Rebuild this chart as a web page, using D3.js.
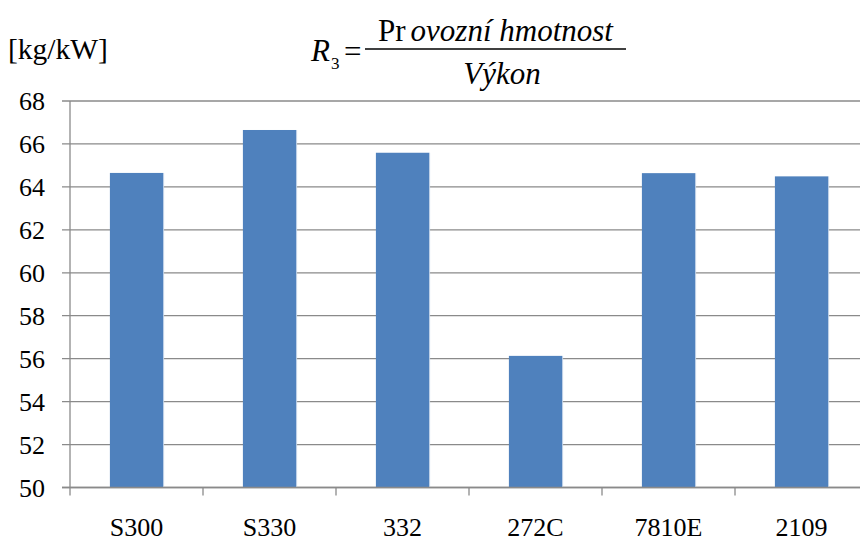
<!DOCTYPE html>
<html><head><meta charset="utf-8">
<script src="https://cdn.jsdelivr.net/npm/d3@7"></script>
<style>body{margin:0;background:#fff}svg{display:block}</style>
</head><body>
<script>
const categories = ["S300","S330","332","272C","7810E","2109"];
const values = [64.65, 66.65, 65.59, 56.13, 64.64, 64.49];
const yTicks = [50,52,54,56,58,60,62,64,66,68];
const unitLabel = "[kg/kW]";

const W = 860, H = 541;
const FONT = "'Liberation Serif', 'Times New Roman', Times, serif";
const m = {left:70, top:101, right:868, bottom:487.5};
const svg = d3.select("body").append("svg").attr("width",W).attr("height",H)
  .attr("font-family",FONT);

const x = d3.scaleBand().domain(categories).range([m.left,m.right]).paddingInner(0.6).paddingOuter(0.3);
const y = d3.scaleLinear().domain([50,68]).range([m.bottom,m.top]);
const GRID = "#8a8a8a";

// gridlines
svg.append("g").selectAll("line").data(yTicks).join("line")
  .attr("x1",62).attr("x2",W).attr("y1",d=>y(d)).attr("y2",d=>y(d))
  .attr("stroke",GRID).attr("stroke-width",1.3);

// y labels
svg.append("g").selectAll("text").data(yTicks).join("text")
  .attr("x",45).attr("y",d=>y(d)).attr("dy","0.35em").attr("text-anchor","end")
  .attr("font-size",26).attr("font-family",FONT).text(d=>d);

// bars
svg.append("g").selectAll("rect").data(values).join("rect")
  .attr("x",(d,i)=>x(categories[i])).attr("width",x.bandwidth())
  .attr("y",d=>y(d)).attr("height",d=>y(50)-y(d))
  .attr("fill","#4F81BD");
svg.append("g").selectAll("line").data(values).join("line")
  .attr("x1",(d,i)=>x(categories[i])+x.bandwidth()+0.5).attr("x2",(d,i)=>x(categories[i])+x.bandwidth()+0.5)
  .attr("y1",d=>y(d)).attr("y2",y(50)).attr("stroke","#b9cde5").attr("stroke-width",1);

// axes lines
svg.append("line").attr("x1",m.left).attr("x2",m.left).attr("y1",m.top).attr("y2",m.bottom)
  .attr("stroke",GRID).attr("stroke-width",1.3);
svg.append("line").attr("x1",62).attr("x2",W).attr("y1",m.bottom).attr("y2",m.bottom)
  .attr("stroke",GRID).attr("stroke-width",1.3);
const step = x.step();
const tickPos = d3.range(categories.length+1).map(i=>m.left+i*step);
svg.append("g").selectAll("line").data(tickPos).join("line")
  .attr("x1",d=>d).attr("x2",d=>d).attr("y1",m.bottom).attr("y2",m.bottom+8)
  .attr("stroke",GRID).attr("stroke-width",1.3);

// x labels
svg.append("g").selectAll("text").data(categories).join("text")
  .attr("x",d=>x(d)+x.bandwidth()/2).attr("y",536).attr("text-anchor","middle")
  .attr("font-size",26).attr("font-family",FONT).text(d=>d);

// unit label
svg.append("text").attr("x",8).attr("y",59).attr("font-size",29.5).attr("font-family",FONT).text(unitLabel);

// formula title
const t = svg.append("g").attr("font-family",FONT);
t.append("text").attr("x",311).attr("y",61).attr("font-size",31).attr("font-style","italic").text("R");
t.append("text").attr("x",331).attr("y",69).attr("font-size",17).text("3");
t.append("text").attr("x",344).attr("y",62).attr("font-size",31).text("=");
t.append("line").attr("x1",365).attr("x2",626).attr("y1",49).attr("y2",49).attr("stroke","#000").attr("stroke-width",1.3);
const num = t.append("text").attr("x",378).attr("y",41).attr("font-size",31);
num.append("tspan").text("Pr");
num.append("tspan").attr("dx",5).attr("font-style","italic").text("ovozní hmotnost");
t.append("text").attr("x",502).attr("y",84).attr("font-size",31).attr("font-style","italic").attr("text-anchor","middle").text("Výkon");
</script>
</body></html>
